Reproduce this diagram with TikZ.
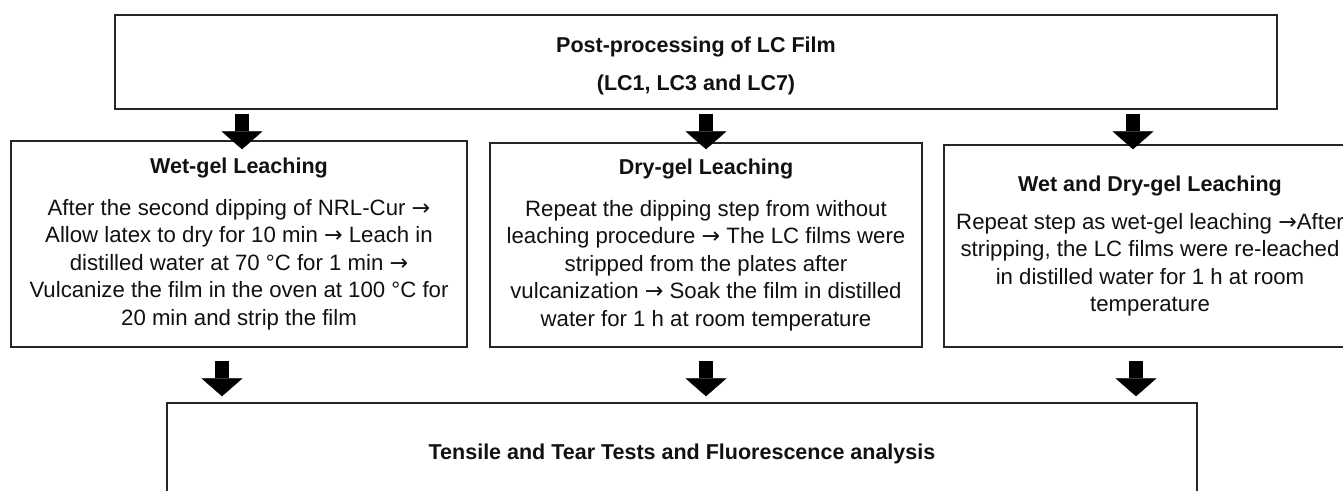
\documentclass[tikz,border=0pt]{standalone}
\usepackage{fontspec}
\setmainfont{Liberation Sans}
\newfontfamily\arrowfont{DejaVu Sans}
\newcommand{\flowto}{{\arrowfont →}}
\newcommand{\stagehead}{\fontsize{21.5}{27.5}\selectfont\bfseries}
\usetikzlibrary{arrows.meta,positioning}
\definecolor{flowInk}{HTML}{111111}
\definecolor{flowLine}{HTML}{262626}
\begin{document}
\begin{tikzpicture}[x=1pt,y=-1pt,line join=miter]
\path[fill=white] (0,0) rectangle (1343,490);
\useasboundingbox (0,0) rectangle (1343,490);
\tikzset{stage/.style={draw=flowLine,line width=1.4pt,inner sep=0pt,align=center,text=flowInk,font=\fontsize{22.2}{27.5}\selectfont},headstage/.style={stage,font=\stagehead},blockarrow/.style={draw=black,line width=14.5pt,-{Triangle[width=41pt,length=18pt,line width=0.5pt]}}}
\node[headstage,minimum width=1162pt,minimum height=94pt] (post) at (696,62) {\rule{0pt}{24pt}Post-processing of LC Film\\[10.5pt](LC1, LC3 and LC7)};
\node[stage,minimum width=456pt,minimum height=206pt] (wet) at (239,244) {{\stagehead Wet-gel Leaching}\\[14.5pt]After the second dipping of NRL-Cur \flowto\\Allow latex to dry for 10 min \flowto{} Leach in\\distilled water at 70 °C for 1 min \flowto\\Vulcanize the film in the oven at 100 °C for\\20 min and strip the film};
\node[stage,minimum width=432pt,minimum height=204pt] (dry) at (706,245) {{\stagehead Dry-gel Leaching}\\[14.5pt]Repeat the dipping step from without\\leaching procedure \flowto{} The LC films were\\stripped from the plates after\\vulcanization \flowto{} Soak the film in distilled\\water for 1 h at room temperature};
\node[stage,minimum width=412pt,minimum height=202pt] (wetdry) at (1150,246) {{\stagehead Wet and Dry-gel Leaching}\\[10.5pt]Repeat step as wet-gel leaching \flowto After\\stripping, the LC films were re-leached\\in distilled water for 1 h at room\\temperature};
\node[headstage,minimum width=1030pt,minimum height=102pt] (tests) at (682,454) {Tensile and Tear Tests and Fluorescence analysis};
\draw[blockarrow] ([xshift=3pt,yshift=-4pt]post.south -| wet.north) -- ([xshift=3pt,yshift=-9pt]wet.north);
\draw[blockarrow] ([yshift=-4pt]post.south -| dry.north) -- ([yshift=-7pt]dry.north);
\draw[blockarrow] ([xshift=-17pt,yshift=-4pt]post.south -| wetdry.north) -- ([xshift=-17pt,yshift=-5pt]wetdry.north);
\draw[blockarrow] ([xshift=-17pt,yshift=-13pt]wet.south) -- ([xshift=-17pt,yshift=6pt]tests.north -| wet.south);
\draw[blockarrow] ([yshift=-13pt]dry.south) -- ([yshift=6pt]tests.north -| dry.south);
\draw[blockarrow] ([xshift=-14pt,yshift=-13pt]wetdry.south) -- ([xshift=-14pt,yshift=6pt]tests.north -| wetdry.south);
\end{tikzpicture}
\end{document}
